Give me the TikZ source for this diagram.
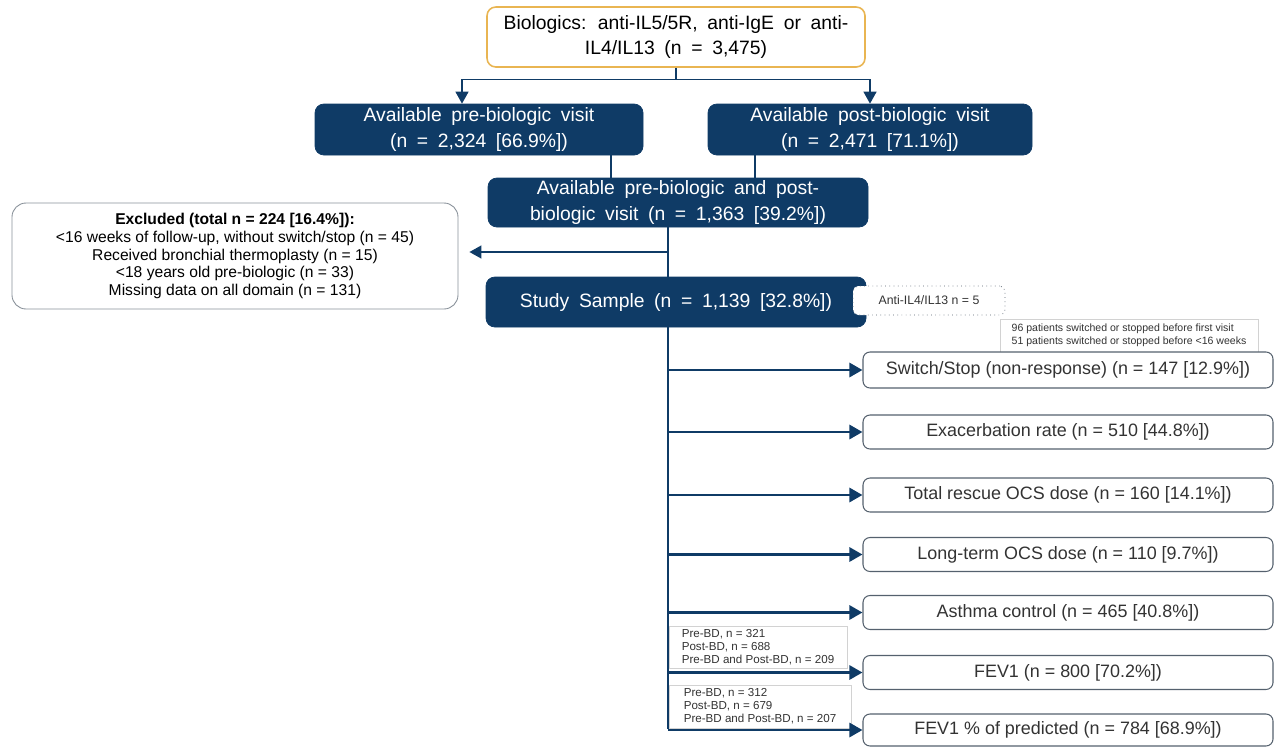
\documentclass[tikz,border=0pt]{standalone}
\usepackage{fontspec}
\setmainfont{Liberation Sans}
\newfontfamily\widefont[WordSpace=1.8]{Liberation Sans}
\usetikzlibrary{arrows.meta,positioning}
\definecolor{navy}{HTML}{0F3B66}
\definecolor{gold}{HTML}{E9B552}
\definecolor{slate}{HTML}{55616E}
\definecolor{txtgray}{HTML}{333333}
\definecolor{lightframe}{HTML}{D2D2D2}

\begin{document}
\begin{tikzpicture}
 [
 topbox/.style={draw=gold, line width=0.9pt, rounded corners=5pt, align=center,
  minimum width=7.56cm, minimum height=1.2cm, inner sep=0pt,
  font=\widefont\fontsize{11}{14.5}\selectfont},
 navybox/.style={draw=navy, fill=navy, rounded corners=5pt, text=white, align=center,
  inner sep=0pt, minimum height=1.0cm, font=\widefont\fontsize{11}{14.5}\selectfont},
 outbox/.style={draw=slate, fill=white, line width=0.6pt, rounded corners=4pt, text=txtgray,
  minimum width=8.2cm, minimum height=0.68cm, inner sep=0pt,
  font=\fontsize{10.2}{12}\selectfont},
 notebox/.style={draw=lightframe, fill=white, line width=0.5pt, align=left, inner sep=0pt,
  text=txtgray, font=\fontsize{6}{7.2}\selectfont},
 bdnote/.style={notebox, font=\fontsize{6.6}{7.3}\selectfont, minimum width=3.56cm},
 link/.style={draw=navy, line width=0.8pt},
 tip/.style={-{Triangle[length=2.4mm,width=2.6mm]}},
 arr/.style={draw=navy, line width=1.6pt, -{Triangle[length=2.6mm,width=2.8mm]}}
 ]
 \useasboundingbox (0,0) rectangle (25.52,-14.92);

 \node (top)  [topbox] at (13.52,-0.74)
  {Biologics: anti-IL5/5R, anti-IgE or anti-\\IL4/IL13 (n = 3,475)};
 \node (pre)  [navybox, minimum width=6.56cm, minimum height=1.02cm] at (9.58,-2.59)
  {Available pre-biologic visit\\(n = 2,324 [66.9\%])};
 \node (post) [navybox, minimum width=6.48cm, minimum height=1.02cm] at (17.4,-2.59)
  {Available post-biologic visit\\(n = 2,471 [71.1\%])};
 \node (both) [navybox, minimum width=7.6cm, minimum height=0.98cm] at (13.56,-4.05)
  {Available pre-biologic and post-\\biologic visit (n = 1,363 [39.2\%])};
 \node (excl) [draw=slate!70, line width=0.5pt, rounded corners=8pt, align=center,
  minimum width=8.92cm, minimum height=2.12cm, inner sep=0pt,
  font=\fontsize{8.9}{10.2}\selectfont] at (4.7,-5.12)
  {\textbf{Excluded (total n = 224 [16.4\%]):}\\
   <16 weeks of follow-up, without switch/stop (n = 45)\\
   Received bronchial thermoplasty (n = 15)\\
   <18 years old pre-biologic (n = 33)\\
   Missing data on all domain (n = 131)};

 % spine of the outcome arrows
 \coordinate (sp) at (13.36,-14.58);
 \draw[navy, line width=1.1pt] (both.south -| sp) -- (sp);

 \node (study) [navybox, minimum width=7.6cm] at (13.52,-6.04)
  {Study Sample (n = 1,139 [32.8\%])};
 \node (anti) [draw=slate, dotted, fill=white, rounded corners=3pt, inner sep=0pt,
  minimum width=3.04cm, minimum height=0.58cm, text=txtgray,
  font=\fontsize{7}{8}\selectfont] at (18.58,-6.01) {Anti-IL4/IL13 n = 5};
 \node (swnote) [notebox, minimum width=5.16cm, minimum height=0.66cm] at (22.58,-6.71)
  {96 patients switched or stopped before first visit\\
   51 patients switched or stopped before <16 weeks};

 \node (sw)    [outbox, minimum height=0.72cm] at (21.36,-7.4)
  {Switch/Stop (non-response) (n = 147 [12.9\%])};
 \node (exac)  [outbox] at (21.36,-8.64)  {Exacerbation rate (n = 510 [44.8\%])};
 \node (ocs)   [outbox] at (21.36,-9.9)   {Total rescue OCS dose (n = 160 [14.1\%])};
 \node (ltocs) [outbox] at (21.36,-11.09) {Long-term OCS dose (n = 110 [9.7\%])};
 \node (act)   [outbox] at (21.36,-12.25) {Asthma control (n = 465 [40.8\%])};
 \node (fev)   [outbox] at (21.36,-13.45) {FEV1 (n = 800 [70.2\%])};
 \node (fevp)  [outbox, minimum height=0.64cm] at (21.36,-14.6)
  {FEV1 \% of predicted (n = 784 [68.9\%])};

 \node (bdA) [bdnote, minimum height=0.84cm] at (15.16,-12.94)
  {Pre-BD, n = 321\\Post-BD, n = 688\\Pre-BD and Post-BD, n = 209};
 \node (bdB) [bdnote, minimum width=3.64cm, minimum height=0.86cm] at (15.2,-14.13)
  {Pre-BD, n = 312\\Post-BD, n = 679\\Pre-BD and Post-BD, n = 207};

 % top split
 \draw[link] (top.south) -- ++(0,-0.24) coordinate (split);
 \draw[link, tip] (split) -| ([xshift=-3.4mm]pre.north);
 \draw[link, tip] (split) -| (post.north);
 \draw[link] (pre.south -| 12.22,0) -- (both.north -| 12.22,0);
 \draw[link] (post.south -| 15.1,0) -- (both.north -| 15.1,0);
 \draw[link, tip] (sp |- 0,-5.04) -- ([xshift=2.2mm]excl.east |- 0,-5.04);

 \draw[arr] (sp |- sw.west)    -- (sw.west);
 \draw[arr] (sp |- exac.west)  -- (exac.west);
 \draw[arr] (sp |- ocs.west)   -- (ocs.west);
 \draw[arr] (sp |- ltocs.west) -- (ltocs.west);
 \draw[arr] (sp |- act.west)   -- (act.west);
 \draw[arr] (sp |- fev.west)   -- (fev.west);
 \draw[arr] (sp |- fevp.west)  -- (fevp.west);
\end{tikzpicture}
\end{document}
